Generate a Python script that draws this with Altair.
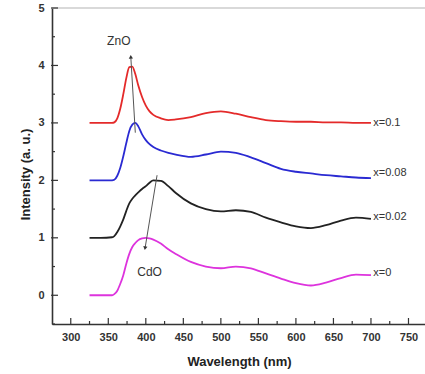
import altair as alt
import pandas as pd

wavelength = [325, 340, 355, 358, 362, 366, 370, 374, 378, 382, 386, 390, 395, 400, 405, 410,
              420, 430, 440, 460, 480, 500, 520, 540, 560, 580, 600, 620, 640, 660, 680, 700]
x_0_1 = [3.0, 3.0, 3.0, 3.01, 3.08, 3.25, 3.5, 3.78, 3.97, 3.98, 3.85, 3.65, 3.45, 3.3, 3.2, 3.14,
         3.08, 3.05, 3.06, 3.1, 3.17, 3.2, 3.16, 3.1, 3.05, 3.03, 3.02, 3.02, 3.01, 3.01, 3.0, 3.0]
x_0_08 = [2.0, 2.0, 2.0, 2.01, 2.08, 2.22, 2.42, 2.65, 2.86, 2.97, 3.0, 2.94, 2.8, 2.7, 2.63, 2.58,
          2.52, 2.48, 2.45, 2.41, 2.45, 2.5, 2.48, 2.4, 2.3, 2.2, 2.15, 2.12, 2.09, 2.07, 2.05, 2.04]
x_0_02 = [1.0, 1.0, 1.01, 1.03, 1.1, 1.2, 1.32, 1.47, 1.6, 1.68, 1.74, 1.79, 1.85, 1.9, 1.96, 2.0,
          1.99, 1.9, 1.78, 1.6, 1.5, 1.46, 1.48, 1.45, 1.35, 1.27, 1.2, 1.17, 1.22, 1.3, 1.35, 1.33]
x_0 = [0.0, 0.0, 0.0, 0.02, 0.08, 0.2, 0.35, 0.55, 0.72, 0.84, 0.91, 0.96, 0.99, 1.0, 0.99, 0.97,
       0.9, 0.8, 0.72, 0.58, 0.5, 0.47, 0.5, 0.47, 0.38, 0.29, 0.21, 0.17, 0.22, 0.3, 0.36, 0.35]

series_names = ["x=0.1", "x=0.08", "x=0.02", "x=0"]
series_colors = ["#e42a2a", "#2a2ad2", "#222222", "#dd33dd"]
label_x = [703, 703, 703, 703]
label_y = [3.0, 2.12, 1.36, 0.38]

x_ticks_major = [300, 350, 400, 450, 500, 550, 600, 650, 700, 750]
x_ticks_minor = [325, 375, 425, 475, 525, 575, 625, 675, 725]
y_ticks_major = [0, 1, 2, 3, 4, 5]
y_ticks_minor = [-0.5, 0.5, 1.5, 2.5, 3.5, 4.5]

ann_text = ["ZnO", "CdO"]
ann_text_x = [364, 405]
ann_text_y = [4.42, 0.40]
arrow_x1 = [386, 415]
arrow_y1 = [2.83, 2.09]
arrow_x2 = [380, 399]
arrow_y2 = [4.15, 0.82]
arrow_shape = ["triangle-up", "triangle-down"]
arrow_angle = [357, 9]

W, H = 373, 316
xs = alt.Scale(domain=[275, 772], nice=False, zero=False)
ys = alt.Scale(domain=[-0.5, 5], nice=False, zero=False)

rows = []
for name, vals in zip(series_names, [x_0_1, x_0_08, x_0_02, x_0]):
    for w, v in zip(wavelength, vals):
        rows.append({"series": name, "wl": w, "val": v})
df = pd.DataFrame(rows)

color = alt.Color("series:N", scale=alt.Scale(domain=series_names, range=series_colors), legend=None)

lines = alt.Chart(df).mark_line(strokeWidth=1.8, interpolate="monotone").encode(
    x=alt.X("wl:Q", scale=xs, axis=alt.Axis(
        title="Wavelength (nm)", values=x_ticks_major, ticks=False, grid=False, format="d",
        labelFont="Liberation Sans", labelFontWeight="bold", labelFontSize=11, labelColor="#333",
        labelPadding=7, domainColor="#333", domainWidth=1.6,
        titleFont="Liberation Sans", titleFontWeight="bold", titleFontSize=13, titleColor="#222",
        titleX=187, titleY=37, titleBaseline="middle")),
    y=alt.Y("val:Q", scale=ys, axis=alt.Axis(
        title="Intensity (a. u.)", values=y_ticks_major, ticks=False, grid=False, format="d",
        labelFont="Liberation Sans", labelFontWeight="bold", labelFontSize=11, labelColor="#333",
        labelPadding=8, domainColor="#333", domainWidth=1.6,
        titleFont="Liberation Sans", titleFontWeight="bold", titleFontSize=13, titleColor="#222",
        titleX=-27, titleY=166, titleBaseline="middle")),
    color=color,
    detail="series:N",
)

top_border = alt.Chart(pd.DataFrame({"v": [0]})).mark_rule(color="#cccccc", strokeWidth=1.5).encode(
    x=alt.value(0), x2=alt.value(W), y=alt.value(0))

lab_df = pd.DataFrame({"t": series_names, "x": label_x, "y": label_y})
labels = alt.Chart(lab_df).mark_text(align="left", baseline="middle", fontSize=11,
                                     font="Liberation Sans", color="#333").encode(
    x=alt.X("x:Q", scale=xs), y=alt.Y("y:Q", scale=ys), text="t:N")

ann_df = pd.DataFrame({"t": ann_text, "tx": ann_text_x, "ty": ann_text_y,
                       "x1": arrow_x1, "y1": arrow_y1, "x2": arrow_x2, "y2": arrow_y2,
                       "shape": arrow_shape, "angle": arrow_angle})
ann_txt = alt.Chart(ann_df).mark_text(fontSize=12, font="Liberation Sans", color="#333").encode(
    x=alt.X("tx:Q", scale=xs), y=alt.Y("ty:Q", scale=ys), text="t:N")
ann_line = alt.Chart(ann_df).mark_rule(color="#555", strokeWidth=1).encode(
    x=alt.X("x1:Q", scale=xs), y=alt.Y("y1:Q", scale=ys), x2="x2:Q", y2="y2:Q")
ann_head = alt.Chart(ann_df).mark_point(filled=True, size=18, color="#333", opacity=1).encode(
    x=alt.X("x2:Q", scale=xs), y=alt.Y("y2:Q", scale=ys),
    shape=alt.Shape("shape:N", scale=None), angle=alt.Angle("angle:Q", scale=None))

xt_major = alt.Chart(pd.DataFrame({"v": x_ticks_major})).mark_rule(color="#333", strokeWidth=1.2).encode(
    x=alt.X("v:Q", scale=xs), y=alt.value(H), y2=alt.value(H - 6))
xt_minor = alt.Chart(pd.DataFrame({"v": x_ticks_minor})).mark_rule(color="#333", strokeWidth=1.2).encode(
    x=alt.X("v:Q", scale=xs), y=alt.value(H), y2=alt.value(H - 3))
yt_major = alt.Chart(pd.DataFrame({"v": y_ticks_major})).mark_rule(color="#333", strokeWidth=1.2).encode(
    y=alt.Y("v:Q", scale=ys), x=alt.value(-1), x2=alt.value(6))
yt_minor = alt.Chart(pd.DataFrame({"v": y_ticks_minor})).mark_rule(color="#333", strokeWidth=1.2).encode(
    y=alt.Y("v:Q", scale=ys), x=alt.value(0), x2=alt.value(3))

chart = alt.layer(top_border, lines, labels, ann_line, ann_head, ann_txt,
                  xt_major, xt_minor, yt_major, yt_minor).properties(
    width=W, height=H,
    autosize=alt.AutoSizeParams(type="none"),
    padding={"left": 52, "top": 8, "right": 0, "bottom": 50},
    background="white",
).configure_view(stroke=None)

chart.save("out.html", embed_options={"renderer": "svg", "actions": False})
